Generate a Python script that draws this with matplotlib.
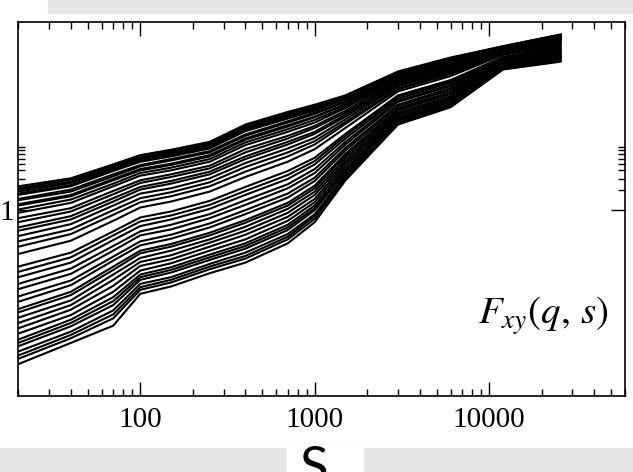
import matplotlib
matplotlib.use("Agg")
import matplotlib.pyplot as plt
import numpy as np
from matplotlib.patches import Rectangle
from matplotlib.ticker import FixedLocator, NullFormatter

# scale s (x axis)
s_values = [20, 40, 70, 100, 150, 250, 400, 700, 1000, 1500, 3000, 6000, 12000, 26000]

# q of every curve, from top (q=10) to bottom (q=-10); q=0 is missing
q_values = [10, 9.5, 9, 8.5, 8, 7.5, 7, 6.5, 6, 5.5, 5, 4.5, 4, 3.5, 3, 2.5, 2, 1.5, 1, 0.5,
            -0.5, -1, -1.5, -2, -2.5, -3, -3.5, -4, -4.5, -5, -5.5, -6, -6.5, -7, -7.5, -8,
            -8.5, -9, -9.5, -10]

# log10 F_xy(q, s), one row per q
log_F = [
    [0.36, 0.48, 0.69, 0.83, 0.91, 1.03, 1.29, 1.48, 1.59, 1.73, 2.09, 2.30, 2.47, 2.65],
    [0.33, 0.46, 0.67, 0.81, 0.89, 1.01, 1.27, 1.46, 1.57, 1.72, 2.08, 2.29, 2.47, 2.65],
    [0.31, 0.43, 0.65, 0.79, 0.87, 0.99, 1.25, 1.44, 1.55, 1.70, 2.07, 2.29, 2.46, 2.64],
    [0.28, 0.41, 0.63, 0.77, 0.85, 0.97, 1.23, 1.42, 1.54, 1.69, 2.07, 2.28, 2.46, 2.64],
    [0.25, 0.38, 0.61, 0.75, 0.83, 0.95, 1.21, 1.40, 1.52, 1.68, 2.06, 2.27, 2.46, 2.63],
    [0.23, 0.36, 0.59, 0.73, 0.81, 0.93, 1.19, 1.38, 1.50, 1.67, 2.05, 2.26, 2.45, 2.63],
    [0.17, 0.31, 0.54, 0.68, 0.77, 0.89, 1.14, 1.34, 1.47, 1.64, 2.03, 2.25, 2.45, 2.62],
    [0.15, 0.28, 0.51, 0.66, 0.75, 0.87, 1.12, 1.32, 1.45, 1.63, 2.03, 2.24, 2.44, 2.62],
    [0.09, 0.23, 0.47, 0.62, 0.70, 0.83, 1.08, 1.28, 1.41, 1.60, 2.01, 2.23, 2.44, 2.61],
    [0.07, 0.21, 0.45, 0.60, 0.68, 0.81, 1.06, 1.26, 1.40, 1.59, 2.00, 2.22, 2.43, 2.61],
    [0.01, 0.16, 0.40, 0.56, 0.64, 0.77, 1.02, 1.22, 1.36, 1.56, 1.99, 2.20, 2.42, 2.60],
    [-0.04, 0.11, 0.36, 0.52, 0.60, 0.73, 0.98, 1.18, 1.32, 1.54, 1.97, 2.19, 2.42, 2.59],
    [-0.12, 0.03, 0.29, 0.45, 0.54, 0.67, 0.92, 1.12, 1.27, 1.50, 1.95, 2.17, 2.41, 2.58],
    [-0.18, -0.02, 0.24, 0.41, 0.50, 0.63, 0.87, 1.08, 1.24, 1.47, 1.93, 2.15, 2.40, 2.57],
    [-0.26, -0.09, 0.18, 0.35, 0.44, 0.58, 0.81, 1.03, 1.18, 1.44, 1.91, 2.13, 2.39, 2.56],
    [-0.31, -0.14, 0.13, 0.31, 0.40, 0.54, 0.77, 0.99, 1.15, 1.41, 1.89, 2.11, 2.38, 2.55],
    [-0.39, -0.21, 0.07, 0.25, 0.33, 0.48, 0.71, 0.93, 1.09, 1.37, 1.87, 2.09, 2.37, 2.54],
    [-0.47, -0.29, 0.00, 0.18, 0.27, 0.42, 0.65, 0.87, 1.04, 1.33, 1.84, 2.07, 2.36, 2.52],
    [-0.55, -0.36, -0.07, 0.12, 0.21, 0.36, 0.58, 0.81, 0.99, 1.30, 1.82, 2.05, 2.35, 2.51],
    [-0.66, -0.46, -0.16, 0.04, 0.13, 0.28, 0.50, 0.73, 0.92, 1.24, 1.79, 2.02, 2.34, 2.49],
    [-0.85, -0.64, -0.32, -0.11, -0.02, 0.14, 0.35, 0.59, 0.79, 1.15, 1.73, 1.96, 2.31, 2.47],
    [-0.93, -0.71, -0.38, -0.17, -0.08, 0.08, 0.29, 0.53, 0.74, 1.12, 1.71, 1.94, 2.30, 2.45],
    [-1.01, -0.79, -0.45, -0.24, -0.14, 0.02, 0.23, 0.47, 0.69, 1.08, 1.68, 1.92, 2.29, 2.44],
    [-1.11, -0.88, -0.54, -0.32, -0.22, -0.06, 0.15, 0.39, 0.62, 1.03, 1.65, 1.89, 2.28, 2.42],
    [-1.19, -0.96, -0.61, -0.38, -0.29, -0.12, 0.08, 0.33, 0.56, 0.99, 1.63, 1.87, 2.27, 2.41],
    [-1.30, -1.06, -0.70, -0.47, -0.37, -0.20, 0.00, 0.25, 0.49, 0.94, 1.59, 1.84, 2.25, 2.40],
    [-1.38, -1.13, -0.76, -0.53, -0.43, -0.26, -0.06, 0.19, 0.44, 0.90, 1.57, 1.81, 2.24, 2.38],
    [-1.49, -1.23, -0.85, -0.61, -0.51, -0.34, -0.15, 0.11, 0.37, 0.85, 1.54, 1.78, 2.23, 2.37],
    [-1.54, -1.28, -0.90, -0.65, -0.55, -0.38, -0.19, 0.07, 0.33, 0.82, 1.52, 1.77, 2.22, 2.36],
    [-1.62, -1.36, -0.97, -0.72, -0.61, -0.44, -0.25, 0.02, 0.28, 0.78, 1.50, 1.75, 2.21, 2.35],
    [-1.70, -1.43, -1.05, -0.78, -0.68, -0.49, -0.31, -0.04, 0.23, 0.74, 1.47, 1.72, 2.20, 2.33],
    [-1.78, -1.50, -1.14, -0.84, -0.74, -0.55, -0.37, -0.10, 0.17, 0.71, 1.45, 1.70, 2.19, 2.32],
    [-1.86, -1.58, -1.23, -0.91, -0.80, -0.61, -0.44, -0.16, 0.12, 0.67, 1.43, 1.68, 2.18, 2.31],
    [-1.95, -1.65, -1.31, -0.97, -0.86, -0.67, -0.50, -0.22, 0.07, 0.63, 1.40, 1.66, 2.17, 2.30],
    [-2.00, -1.70, -1.37, -1.01, -0.90, -0.71, -0.54, -0.26, 0.03, 0.60, 1.39, 1.64, 2.16, 2.29],
    [-2.05, -1.75, -1.43, -1.05, -0.94, -0.75, -0.58, -0.30, 0.00, 0.58, 1.37, 1.63, 2.16, 2.28],
    [-2.13, -1.83, -1.51, -1.11, -1.01, -0.81, -0.64, -0.36, -0.06, 0.54, 1.35, 1.60, 2.14, 2.27],
    [-2.19, -1.88, -1.57, -1.16, -1.05, -0.85, -0.69, -0.40, -0.09, 0.51, 1.33, 1.59, 2.14, 2.26],
    [-2.24, -1.93, -1.63, -1.20, -1.09, -0.89, -0.73, -0.44, -0.13, 0.49, 1.31, 1.57, 2.13, 2.25],
    [-2.32, -2.00, -1.74, -1.26, -1.15, -0.95, -0.79, -0.50, -0.18, 0.45, 1.29, 1.55, 2.12, 2.24],
]

x_ticks = [100, 1000, 10000]
x_tick_labels = ["100", "1000", "10000"]
y_ticks = [1]
y_tick_labels = ["1"]
y_minor = [2, 3, 4, 5, 6, 7, 8, 9]

W, H = 633, 472
plt.rcParams["mathtext.fontset"] = "stix"
fig = plt.figure(figsize=(W / 100, H / 100), dpi=100)
fig.patch.set_facecolor("white")

# grey slide background showing above and below the plot
fig.patches.append(Rectangle((48 / W, 1 - 13 / H), 1, 13 / H, transform=fig.transFigure,
                             color="#e6e6e6", zorder=0))
fig.patches.append(Rectangle((0, 0), 1, 24 / H, transform=fig.transFigure,
                             color="#e6e6e6", zorder=0))
fig.patches.append(Rectangle((287 / W, 0), 76 / W, 24 / H, transform=fig.transFigure,
                             color="white", zorder=1))

ax = fig.add_axes([18.3 / W, 1 - 396 / H, (625 - 18.3) / W, (396 - 21.7) / H])

for q, row in zip(q_values, log_F):
    ax.plot(s_values, 10 ** np.array(row), color="black", lw=1.5, solid_capstyle="butt")

ax.set_xscale("log")
ax.set_yscale("log")
ax.set_xlim(20, 60000)
ax.set_ylim(10 ** -2.8, 10 ** 2.84)

ax.set_xticks(x_ticks)
ax.set_xticklabels(x_tick_labels)
ax.xaxis.set_minor_locator(FixedLocator([k * d for d in (10, 100, 1000, 10000) for k in range(2, 10)]))
ax.xaxis.set_minor_formatter(NullFormatter())
ax.set_yticks(y_ticks)
ax.set_yticklabels(y_tick_labels)
ax.yaxis.set_minor_locator(FixedLocator(y_minor))
ax.yaxis.set_minor_formatter(NullFormatter())

ax.tick_params(which="both", direction="in", top=True, right=True, width=1.0, color="black",
               labelsize=21, labelfontfamily="Liberation Serif")
ax.tick_params(which="major", length=10)
ax.tick_params(which="minor", length=5)
ax.tick_params(axis="x", pad=8)
ax.tick_params(axis="y", pad=3)
for sp in ax.spines.values():
    sp.set_linewidth(1.2)

ax.text(0.757, 0.215, r"$F_{xy}(q,\,s)$", transform=ax.transAxes, fontsize=28,
        ha="left", va="center")

fig.text(314 / W, 1 - 446 / H, "S", fontsize=38, family="Lato", ha="center", va="top")

fig.savefig("out.png", dpi=100)
